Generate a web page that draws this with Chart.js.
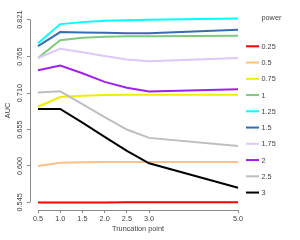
<!DOCTYPE html>
<html>
<head>
<meta charset="utf-8">
<script src="https://cdn.jsdelivr.net/npm/chart.js@4"></script>
<style>
  html, body { margin: 0; padding: 0; background: #fff; }
  #wrap { width: 300px; height: 240px; }
</style>
</head>
<body>
<div id="wrap"><canvas id="myChart" width="300" height="240"></canvas></div>
<script>
// truncation points (x) and AUC per power
const truncPoints = [0.5, 1.0, 1.5, 2.0, 2.5, 3.0, 5.0];
const powers = ["0.25", "0.5", "0.75", "1", "1.25", "1.5", "1.75", "2", "2.5", "3"];

const auc025 = [0.5447, 0.5449, 0.5450, 0.5450, 0.5451, 0.5451, 0.5452];
const auc05  = [0.600, 0.605, 0.6055, 0.606, 0.606, 0.606, 0.606];
const auc075 = [0.6894, 0.7041, 0.706, 0.7071, 0.7076, 0.7076, 0.7076];
const auc1   = [0.763, 0.790, 0.7935, 0.795, 0.796, 0.796, 0.7965];
const auc125 = [0.7854, 0.8142, 0.8172, 0.8192, 0.820, 0.8208, 0.8228];
const auc15  = [0.7809, 0.8021, 0.8015, 0.801, 0.8005, 0.8005, 0.8056];
const auc175 = [0.763, 0.7768, 0.7718, 0.766, 0.7606, 0.758, 0.763];
const auc2   = [0.7445, 0.7515, 0.740, 0.727, 0.718, 0.7125, 0.716];
const auc25  = [0.711, 0.7128, 0.6935, 0.6738, 0.655, 0.6424, 0.6303];
const auc3   = [0.686, 0.686, 0.6655, 0.644, 0.6227, 0.604, 0.567];

const allSeries = [auc025, auc05, auc075, auc1, auc125, auc15, auc175, auc2, auc25, auc3];
const colors = ["#ff0000", "#fdc086", "#eeee00", "#7fc97f", "#00ffff", "#386cb0", "#dcc8fa", "#a020f0", "#bebebe", "#000000"];

const xTicks = [0.5, 1.0, 1.5, 2.0, 2.5, 3.0, 5.0];
const yTicks = [0.545, 0.600, 0.655, 0.710, 0.765, 0.821];

const fontFam = "'Liberation Sans', Arial, sans-serif";
const fontSize = 7.3;
const axisColor = "#8a8a8a";
const textColor = "#444";

const datasets = allSeries.map((vals, i) => ({
  label: powers[i],
  data: truncPoints.map((x, j) => ({ x: x, y: vals[j] })),
  borderColor: colors[i],
  backgroundColor: colors[i],
  borderWidth: 2,
  pointRadius: 0,
  tension: 0,
  order: 20 - i
}));

// R style axis lines (first to last tick), rotated y labels, and legend
const rAxes = {
  id: "rAxes",
  afterDraw(chart) {
    const ctx = chart.ctx;
    const xs = chart.scales.x;
    const ys = chart.scales.y;
    const area = chart.chartArea;
    ctx.save();
    ctx.strokeStyle = axisColor;
    ctx.lineWidth = 1;
    ctx.beginPath();
    ctx.moveTo(xs.getPixelForValue(xTicks[0]), area.bottom + 0.5);
    ctx.lineTo(xs.getPixelForValue(xTicks[xTicks.length - 1]), area.bottom + 0.5);
    ctx.moveTo(area.left + 0.5, ys.getPixelForValue(yTicks[0]));
    ctx.lineTo(area.left + 0.5, ys.getPixelForValue(yTicks[yTicks.length - 1]));
    ctx.stroke();

    ctx.font = fontSize + "px " + fontFam;
    ctx.fillStyle = textColor;
    ctx.textAlign = "center";
    ctx.textBaseline = "middle";
    yTicks.forEach(v => {
      ctx.save();
      ctx.translate(20, ys.getPixelForValue(v));
      ctx.rotate(-Math.PI / 2);
      ctx.fillText(v.toFixed(3), 0, 0);
      ctx.restore();
    });

    // legend
    ctx.textAlign = "left";
    ctx.fillText("power", 261.5, 17.5);
    powers.forEach((p, i) => {
      const y = 46.3 + i * 16.25;
      ctx.strokeStyle = colors[i];
      ctx.lineWidth = 2;
      ctx.beginPath();
      ctx.moveTo(246, y);
      ctx.lineTo(259, y);
      ctx.stroke();
      ctx.fillStyle = textColor;
      ctx.fillText(p, 261.5, y + 0.5);
    });
    ctx.restore();
  }
};

const config = {
  type: "line",
  data: { datasets: datasets },
  options: {
    responsive: false,
    animation: false,
    devicePixelRatio: 1,
    layout: { padding: { top: 11, right: 54, bottom: 0, left: 0 } },
    plugins: { legend: { display: false }, tooltip: { enabled: false } },
    scales: {
      x: {
        type: "linear",
        min: 0.32,
        max: 5.18,
        afterBuildTicks: axis => { axis.ticks = xTicks.map(v => ({ value: v })); },
        afterFit: axis => { axis.height = 30; },
        border: { display: false },
        grid: { display: true, drawOnChartArea: false, drawTicks: true, tickLength: 3, color: axisColor },
        ticks: {
          padding: 2,
          color: textColor,
          font: { family: fontFam, size: fontSize },
          maxRotation: 0,
          autoSkip: false,
          callback: v => Number(v).toFixed(1)
        },
        title: {
          display: true,
          text: "Truncation point",
          color: textColor,
          font: { family: fontFam, size: fontSize },
          padding: { top: 0, bottom: 6.6 }
        }
      },
      y: {
        type: "linear",
        min: 0.5335,
        max: 0.834,
        afterBuildTicks: axis => { axis.ticks = yTicks.map(v => ({ value: v })); },
        afterFit: axis => { axis.width = 30; },
        border: { display: false },
        grid: { display: true, drawOnChartArea: false, drawTicks: true, tickLength: 3, color: axisColor },
        ticks: { display: false },
        title: {
          display: true,
          text: "AUC",
          color: textColor,
          font: { family: fontFam, size: fontSize },
          padding: { top: 3.6, bottom: 0 }
        }
      }
    }
  },
  plugins: [rAxes]
};

const myChart = new Chart(document.getElementById("myChart"), config);
</script>
</body>
</html>
